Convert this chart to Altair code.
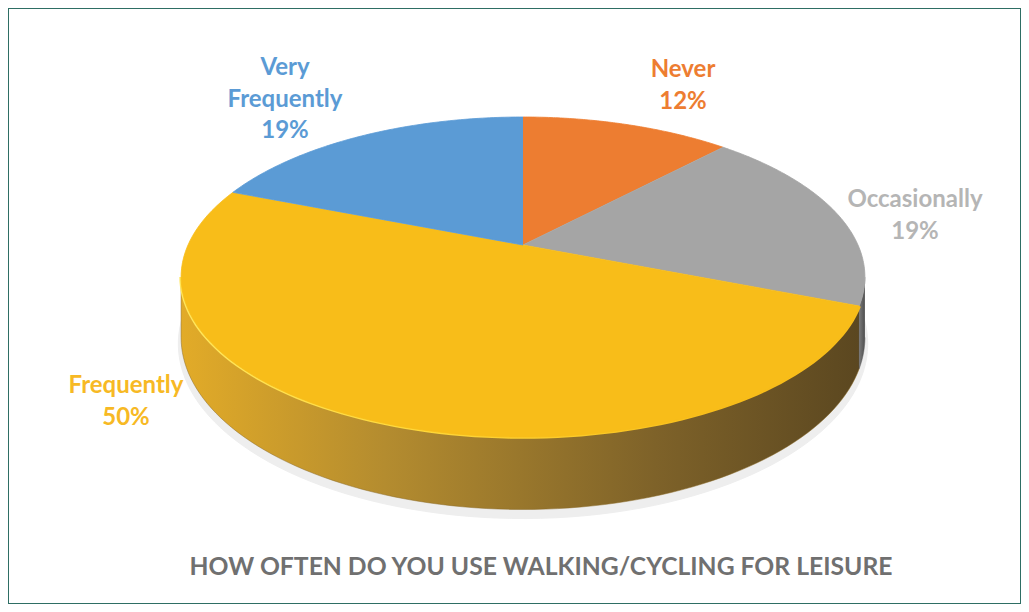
import altair as alt
import pandas as pd

# ---- data ----
categories = ["Never", "Occasionally", "Frequently", "Very Frequently"]
values = [12, 19, 50, 19]
title_text = "HOW OFTEN DO YOU USE WALKING/CYCLING FOR LEISURE"

# ---- styles / layout ----
slice_colors = ["#ED7D31", "#A5A5A5", "#F8BD19", "#5B9BD5"]
label_colors = ["#ED7D31", "#B5B5B5", "#F7B924", "#5B9BD5"]
label_x = [683, 915, 126, 285]      # label block centres (page px)
label_y = [70, 200, 386, 68]        # first-line centres (page px)

W, H = 1013, 596
CX, CY = 515, 237     # pie apex in view px
R, S = 335, 153.6     # horizontal / vertical projected radius
P = 0.2               # perspective factor
DEPTH = 58            # thickness of the pie
N = 90

df = pd.DataFrame({"category": categories, "value": values, "k": list(range(len(categories)))})

labels = pd.DataFrame({
    "category": categories,
    "text": [c.replace(" ", "\n") + "\n" + f"{v}%" for c, v in zip(categories, values)],
    "lx": [x - 8 for x in label_x],
    "ly": [y - 8 for y in label_y],
})

xs = alt.X("px:Q", scale=alt.Scale(domain=[0, W], nice=False, zero=False), axis=None)
ys = alt.Y("py:Q", scale=alt.Scale(domain=[0, H], reverse=True, nice=False, zero=False), axis=None)

base = (
    alt.Chart(df)
    .transform_window(cum="sum(value)", sort=[alt.SortField("k", order="ascending")], frame=[None, 0])
    .transform_joinaggregate(total="sum(value)")
    .transform_calculate(a0="2*PI*(datum.cum-datum.value)/datum.total")
    .transform_calculate(a1="2*PI*datum.cum/datum.total")
)

# top surface polygons (centre + arc)
def top_poly(extra_y=0, scale=1.0):
    return (
        base.transform_calculate(seq=f"sequence(0, {N + 2})")
        .transform_flatten(["seq"], ["idx"])
        .transform_calculate(ang=f"datum.a0 + (datum.a1-datum.a0)*max(datum.idx-1,0)/{N}")
        .transform_calculate(u="datum.idx==0 ? 0 : sin(datum.ang)")
        .transform_calculate(v="datum.idx==0 ? 0 : cos(datum.ang)")
        .transform_calculate(w=f"1+{P}*datum.v")
        .transform_calculate(px=f"{CX}+{R * scale}*datum.u/datum.w")
        .transform_calculate(py=f"{CY}-{S * scale}*datum.v/datum.w + ({extra_y})/datum.w")
    )

# visible side walls
side = (
    base.transform_calculate(b0=f"max(datum.a0, acos(-{P}))")
    .transform_calculate(b1=f"min(datum.a1, 2*PI-acos(-{P}))")
    .transform_filter("datum.b1 > datum.b0")
    .transform_calculate(seq=f"sequence(0, {2 * N + 2})")
    .transform_flatten(["seq"], ["idx"])
    .transform_calculate(
        ang=f"datum.idx<={N} ? datum.b0+(datum.b1-datum.b0)*datum.idx/{N} : datum.b1-(datum.b1-datum.b0)*(datum.idx-{N}-1)/{N}"
    )
    .transform_calculate(bottom=f"datum.idx>{N} ? 1 : 0")
    .transform_calculate(w=f"1+{P}*cos(datum.ang)")
    .transform_calculate(px=f"{CX}+{R}*sin(datum.ang)/datum.w")
    .transform_calculate(py=f"{CY}-{S}*cos(datum.ang)/datum.w + datum.bottom*{DEPTH}/datum.w")
)

shadow = top_poly(extra_y=DEPTH + 6, scale=1.008).mark_line(
    filled=True, fill="#EEEEEE", stroke="#EEEEEE", strokeWidth=1
).encode(x=xs, y=ys, detail="category:N", order=alt.Order("idx:Q"))

side_grad_freq = alt.Gradient(
    gradient="linear", x1=0, y1=0, x2=1, y2=0,
    stops=[alt.GradientStop(color="#E2AB28", offset=0),
           alt.GradientStop(color="#B48C2F", offset=0.3),
           alt.GradientStop(color="#7E6229", offset=0.7),
           alt.GradientStop(color="#5B4720", offset=1)],
)
side_grad_occ = alt.Gradient(
    gradient="linear", x1=0, y1=0, x2=1, y2=0,
    stops=[alt.GradientStop(color="#7A7A7A", offset=0),
           alt.GradientStop(color="#4E4E4E", offset=1)],
)

side_freq = side.transform_filter(alt.datum.category == categories[2]).mark_line(
    filled=True, fill=side_grad_freq, stroke="#8A6B28", strokeWidth=0.5
).encode(x=xs, y=ys, detail="category:N", order=alt.Order("idx:Q"))

side_occ = side.transform_filter(alt.datum.category == categories[1]).mark_line(
    filled=True, fill=side_grad_occ, stroke="#555555", strokeWidth=0.5
).encode(x=xs, y=ys, detail="category:N", order=alt.Order("idx:Q"))

rim_grad = alt.Gradient(
    gradient="linear", x1=0, y1=0, x2=1, y2=0,
    stops=[alt.GradientStop(color="#FFE65C", offset=0),
           alt.GradientStop(color="#FFD83A", offset=0.35),
           alt.GradientStop(color="#F8BD19", offset=0.8)],
)
rim = side.transform_filter(alt.datum.category == categories[2]).transform_filter(
    f"datum.idx <= {N}"
).mark_line(stroke=rim_grad, strokeWidth=3.5).encode(
    x=xs, y=ys, detail="category:N", order=alt.Order("idx:Q")
)

top = top_poly().mark_line(filled=True, strokeWidth=0.8).encode(
    x=xs, y=ys,
    fill=alt.Fill("category:N", scale=alt.Scale(domain=categories, range=slice_colors), legend=None),
    stroke=alt.Stroke("category:N", scale=alt.Scale(domain=categories, range=slice_colors), legend=None),
    order=alt.Order("idx:Q"),
)

label_layer = alt.Chart(labels).mark_text(
    font="Lato", fontSize=24, fontWeight="bold", lineBreak="\n", lineHeight=31.5,
    align="center", baseline="middle",
).encode(
    x=alt.X("lx:Q", scale=alt.Scale(domain=[0, W], nice=False, zero=False), axis=None),
    y=alt.Y("ly:Q", scale=alt.Scale(domain=[0, H], reverse=True, nice=False, zero=False), axis=None),
    text="text:N",
    color=alt.Color("category:N", scale=alt.Scale(domain=categories, range=label_colors), legend=None),
)

title_layer = alt.Chart(pd.DataFrame({"t": [title_text]})).mark_text(
    font="Lato", fontSize=24.7, fontWeight="bold", color="#707070", align="center", baseline="middle"
).encode(text="t:N", x=alt.value(533), y=alt.value(560))

chart = (
    alt.layer(shadow, side_freq, side_occ, rim, top, label_layer, title_layer)
    .resolve_scale(color="independent", fill="independent", stroke="independent")
    .properties(width=W, height=H, padding=0, background="white")
    .configure_view(stroke="#2E6E64", strokeWidth=2)
)

chart.save("out.html", embed_options={"renderer": "svg", "actions": False})
